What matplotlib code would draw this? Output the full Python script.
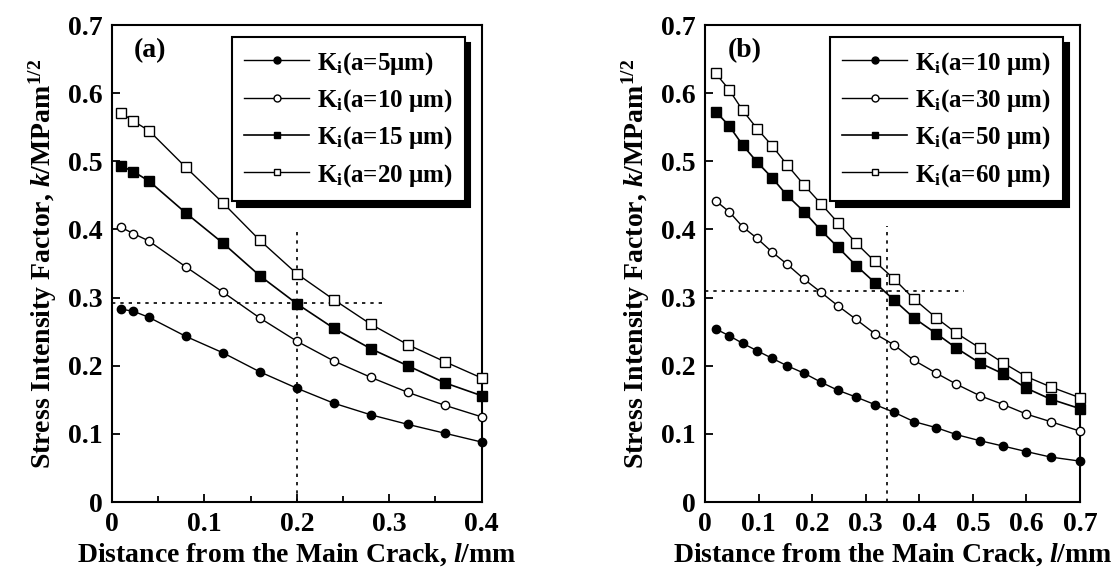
import numpy as np
import matplotlib
matplotlib.use("Agg")
import matplotlib.pyplot as plt
from matplotlib.ticker import MultipleLocator, FuncFormatter

plt.rcParams['font.family'] = ['Liberation Serif', 'DejaVu Serif']
plt.rcParams['font.weight'] = 'bold'
plt.rcParams['axes.labelweight'] = 'bold'
plt.rcParams['mathtext.fontset'] = 'custom'
plt.rcParams['mathtext.rm'] = 'Liberation Serif:bold'
plt.rcParams['mathtext.bf'] = 'Liberation Serif:bold'
plt.rcParams['mathtext.it'] = 'Liberation Serif:bold:italic'

# panel (a): distance l (mm) and K_i for crack lengths 5/10/15/20 um
x_a = [0.01, 0.023, 0.04, 0.08, 0.12, 0.16, 0.20, 0.24, 0.28, 0.32, 0.36, 0.40]
k_a5 = [0.283, 0.280, 0.271, 0.243, 0.219, 0.191, 0.167, 0.145, 0.128, 0.114, 0.101, 0.088]
k_a10 = [0.403, 0.394, 0.383, 0.345, 0.308, 0.270, 0.236, 0.207, 0.183, 0.161, 0.142, 0.125]
k_a15 = [0.493, 0.485, 0.471, 0.424, 0.380, 0.332, 0.291, 0.255, 0.225, 0.200, 0.175, 0.156]
k_a20 = [0.571, 0.559, 0.545, 0.491, 0.439, 0.384, 0.335, 0.297, 0.261, 0.231, 0.206, 0.182]
labels_a = ['K$_\\mathregular{i}$(a=5μm)', 'K$_\\mathregular{i}$(a=10 μm)',
            'K$_\\mathregular{i}$(a=15 μm)', 'K$_\\mathregular{i}$(a=20 μm)']

# panel (b): crack lengths 10/30/50/60 um
x_b = [0.02, 0.045, 0.07, 0.097, 0.125, 0.153, 0.185, 0.216, 0.248, 0.282,
       0.317, 0.352, 0.39, 0.432, 0.469, 0.513, 0.557, 0.60, 0.645, 0.70]
k_b10 = [0.254, 0.244, 0.233, 0.222, 0.211, 0.200, 0.189, 0.176, 0.164, 0.154,
         0.143, 0.132, 0.118, 0.109, 0.099, 0.090, 0.082, 0.074, 0.066, 0.060]
k_b30 = [0.442, 0.426, 0.404, 0.387, 0.367, 0.349, 0.327, 0.308, 0.288, 0.268,
         0.247, 0.231, 0.208, 0.189, 0.173, 0.156, 0.143, 0.129, 0.118, 0.104]
k_b50 = [0.573, 0.552, 0.524, 0.499, 0.476, 0.450, 0.426, 0.399, 0.374, 0.347,
         0.322, 0.297, 0.270, 0.247, 0.226, 0.204, 0.188, 0.167, 0.151, 0.137]
k_b60 = [0.629, 0.605, 0.575, 0.548, 0.523, 0.495, 0.465, 0.438, 0.410, 0.380,
         0.353, 0.328, 0.298, 0.270, 0.248, 0.226, 0.204, 0.184, 0.169, 0.153]
labels_b = ['K$_\\mathregular{i}$(a=10 μm)', 'K$_\\mathregular{i}$(a=30 μm)',
            'K$_\\mathregular{i}$(a=50 μm)', 'K$_\\mathregular{i}$(a=60 μm)']

# guide lines: (x of vertical, top of vertical, y of horizontal, end of horizontal)
guide_a = (0.20, 0.40, 0.292, 0.295)
guide_b = (0.34, 0.405, 0.309, 0.483)

styles = [dict(marker='o', ms=6, mfc='black', mec='black', lw=1.0),
          dict(marker='o', ms=6, mfc='white', mec='black', mew=1.0, lw=1.0),
          dict(marker='s', ms=6.5, mfc='black', mec='black', lw=1.2),
          dict(marker='s', ms=6.5, mfc='white', mec='black', mew=1.0, lw=1.0)]

fig = plt.figure(figsize=(11.17, 5.74), dpi=100)
ax_a = fig.add_axes([0.1003, 0.1254, 0.3309, 0.831])
ax_b = fig.add_axes([0.6312, 0.1254, 0.3357, 0.831])


def fmt(v, pos):
    return '0' if abs(v) < 1e-9 else f'{v:.1f}'


def draw(ax, x, series, labels, guide, xmax, minor, tag):
    for ys, lab, st in zip(series, labels, styles):
        ax.plot(x, ys, color='black', label=lab, clip_on=False, zorder=3, **st)
    gx, gtop, gy, gend = guide
    ax.plot([gx, gx], [0, gtop], color='black', ls=(0, (2, 3)), lw=1.2, zorder=2)
    ax.plot([0, gend], [gy, gy], color='black', ls=(0, (2, 3)), lw=1.2, zorder=2)
    ax.set_xlim(0, xmax)
    ax.set_ylim(0, 0.7)
    ax.xaxis.set_major_locator(MultipleLocator(0.1))
    if minor:
        ax.xaxis.set_minor_locator(MultipleLocator(0.05))
    ax.yaxis.set_major_locator(MultipleLocator(0.1))
    ax.xaxis.set_major_formatter(FuncFormatter(fmt))
    ax.yaxis.set_major_formatter(FuncFormatter(fmt))
    ax.tick_params(which='both', direction='in', top=False, right=False,
                   labelsize=20, width=1.3, pad=7)
    ax.tick_params(which='major', length=6)
    ax.tick_params(which='minor', length=4)
    for s in ax.spines.values():
        s.set_linewidth(1.5)
    ax.set_xlabel('Distance from the Main Crack, $l$/mm', fontsize=20, labelpad=3)
    ax.set_ylabel('Stress Intensity Factor, $k$/MPam$^{\\mathregular{1/2}}$',
                  fontsize=20, labelpad=6)
    ax.text(0.06, 0.947, tag, transform=ax.transAxes, fontsize=20,
            ha='left', va='center')
    leg = ax.legend(loc='upper right', bbox_to_anchor=(0.975, 0.99), fontsize=18,
                    frameon=True, fancybox=False, handlelength=2.6,
                    labelspacing=0.42, borderpad=0.5, handletextpad=0.3,
                    borderaxespad=0.3,
                    shadow={'color': 'black', 'alpha': 1.0, 'ox': 4, 'oy': -4})
    leg.get_frame().set_edgecolor('black')
    leg.get_frame().set_linewidth(1.5)
    for h in leg.legend_handles:
        h.set_markersize(5)


draw(ax_a, x_a, [k_a5, k_a10, k_a15, k_a20], labels_a, guide_a, 0.4, True, '(a)')
draw(ax_b, x_b, [k_b10, k_b30, k_b50, k_b60], labels_b, guide_b, 0.7, False, '(b)')

fig.savefig('out.png', dpi=100)
